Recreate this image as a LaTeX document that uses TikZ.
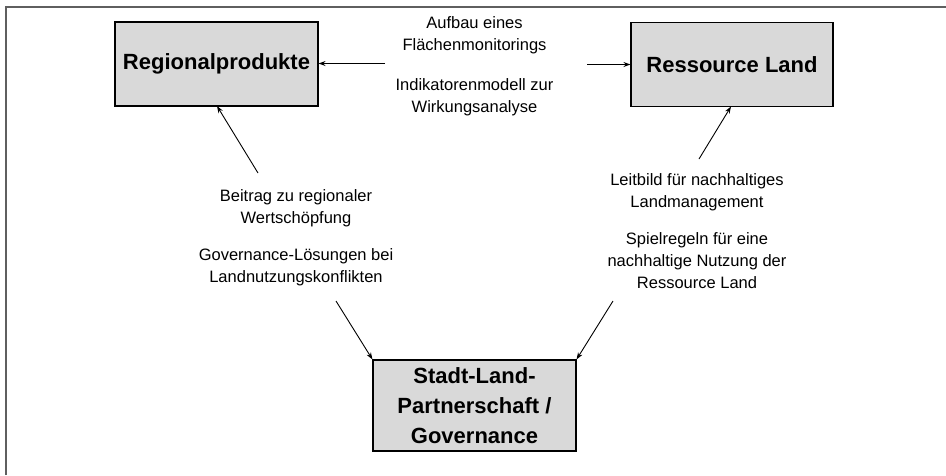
\documentclass[tikz,border=0pt]{standalone}
\usepackage{fontspec}
\setmainfont{Liberation Sans}
\usetikzlibrary{arrows.meta}
\begin{document}
\begin{tikzpicture}[x=1pt,y=-1pt,
  boxnode/.style={draw=black,line width=1.1pt,fill=boxgray,inner sep=0pt,font=\fontsize{22}{30}\selectfont\bfseries,align=center},
  labeltext/.style={font=\fontsize{16.5}{22}\selectfont,align=center,inner sep=0pt},
  conn/.style={line width=0.9pt,-{Stealth[length=7pt,width=5pt]}}]
\definecolor{boxgray}{HTML}{D9D9D9}
\definecolor{framegray}{HTML}{5F5F5F}
\useasboundingbox (0,0) rectangle (946,475);
\draw[framegray,line width=2pt] (6,475) -- (6,7) -- (946,7);
% boxes
\node[boxnode,minimum width=203pt,minimum height=84pt] (rp) at (216.5,64) {Regionalprodukte};
\node[boxnode,minimum width=202pt,minimum height=84pt] (rl) at (732,64.5) {Ressource Land};
\node[boxnode,minimum width=203pt,minimum height=91pt] (sl) at (474.5,405.5) {Stadt-Land-\\Partnerschaft /\\Governance};
% texts
\node[labeltext] (t1) at (474.5,35.5) {Aufbau eines\\Flächenmonitorings};
\node[labeltext] (t2) at (474.5,97) {Indikatorenmodell zur\\Wirkungsanalyse};
\node[labeltext] (t3) at (296,208) {Beitrag zu regionaler\\Wertschöpfung};
\node[labeltext] (t4) at (296,267.5) {Governance-Lösungen bei\\Landnutzungskonflikten};
\node[labeltext] (t5) at (697,192.5) {Leitbild für nachhaltiges\\Landmanagement};
\node[labeltext] (t6) at (697,260.5) {Spielregeln für eine\\nachhaltige Nutzung der\\Ressource Land};
% connector free ends
\coordinate (a1) at (385,63.5);
\coordinate (a2) at (587,64.5);
\coordinate (a3) at (258,173);
\coordinate (a4) at (336,301);
\coordinate (a5) at (699,159);
\coordinate (a6) at (613,301);
\draw[conn] (a1) -- (rp.east |- a1);
\draw[conn] (a2) -- (rl.west |- a2);
\draw[conn] (a3) -- (217,106);
\draw[conn] (a4) -- (sl.north west);
\draw[conn] (a5) -- (731,106.5);
\draw[conn] (a6) -- (sl.north east);
\end{tikzpicture}
\end{document}
